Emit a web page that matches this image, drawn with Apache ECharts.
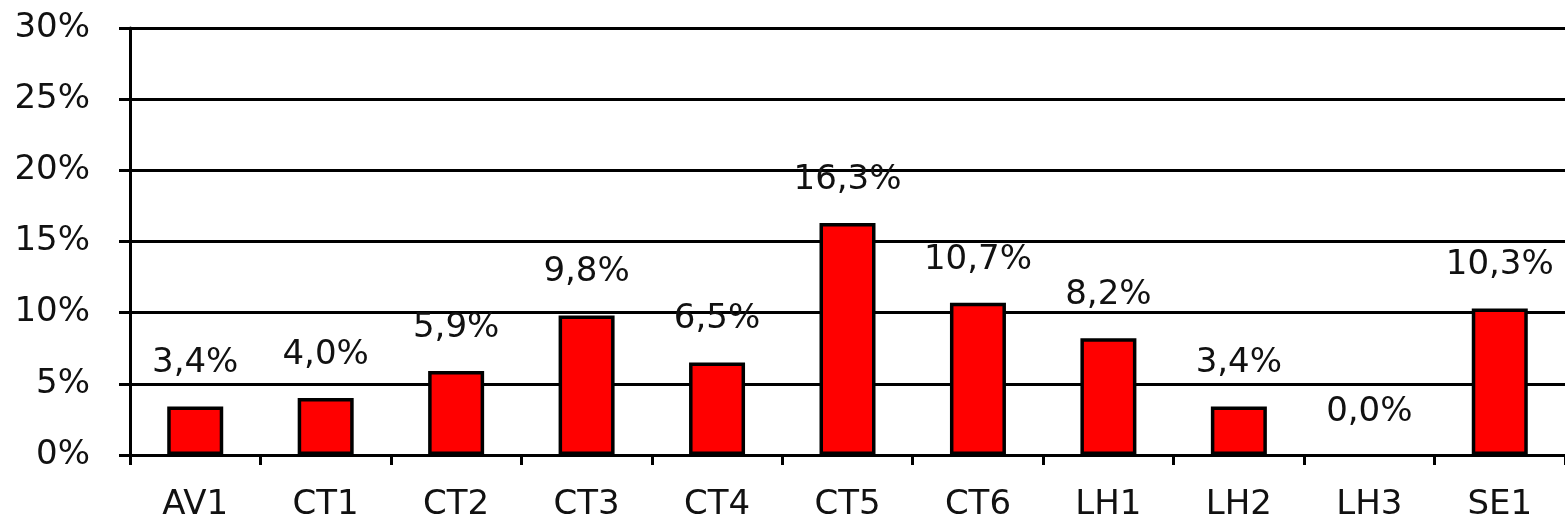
<!DOCTYPE html>
<html>
<head>
<meta charset="utf-8">
<script src="https://cdn.jsdelivr.net/npm/echarts@6/dist/echarts.min.js"></script>
<style>
html, body { margin: 0; padding: 0; background: #fff; }
#chart { width: 1565px; height: 522px; }
</style>
</head>
<body>
<div id="chart"></div>
<script>
// Share per site, in percent
const categories = ['AV1', 'CT1', 'CT2', 'CT3', 'CT4', 'CT5', 'CT6', 'LH1', 'LH2', 'LH3', 'SE1'];
const shares = [3.4, 4.0, 5.9, 9.8, 6.5, 16.3, 10.7, 8.2, 3.4, 0.0, 10.3];
const yTicks = [0, 5, 10, 15, 20, 25, 30];

const fontFamily = '"DejaVu Sans", Verdana, sans-serif';
const fmt = v => v.toFixed(1).replace('.', ',') + '%';

// an empty bar leaves no outline on the axis
const barData = shares.map(v => v === 0 ? { value: v, itemStyle: { borderWidth: 0 } } : v);

const chart = echarts.init(document.getElementById('chart'));
chart.setOption({
  animation: false,
  grid: { left: 130, right: -6, top: 28, bottom: 64, containLabel: false },
  xAxis: {
    type: 'category',
    data: categories,
    axisLine: { lineStyle: { color: '#000', width: 3 } },
    axisTick: { show: true, length: 10, lineStyle: { color: '#000', width: 3 } },
    axisLabel: { color: '#111', fontFamily, fontSize: 34, margin: 33 }
  },
  yAxis: {
    type: 'value',
    min: yTicks[0],
    max: yTicks[yTicks.length - 1],
    interval: 5,
    axisLine: { show: true, lineStyle: { color: '#000', width: 3 } },
    axisTick: { show: true, length: 11, lineStyle: { color: '#000', width: 3 } },
    axisLabel: {
      color: '#111', fontFamily, fontSize: 34, margin: 40,
      padding: [0, 0, 7, 0],
      formatter: v => v + '%'
    },
    splitLine: { lineStyle: { color: '#000', width: 3 } }
  },
  series: [{
    type: 'bar',
    data: barData,
    barWidth: 56,
    itemStyle: { color: '#ff0000', borderColor: '#000', borderWidth: 3.5 },
    label: {
      show: true,
      position: 'top',
      distance: 26,
      color: '#111',
      fontFamily,
      fontSize: 34,
      formatter: p => fmt(p.value)
    }
  }]
});
</script>
</body>
</html>
